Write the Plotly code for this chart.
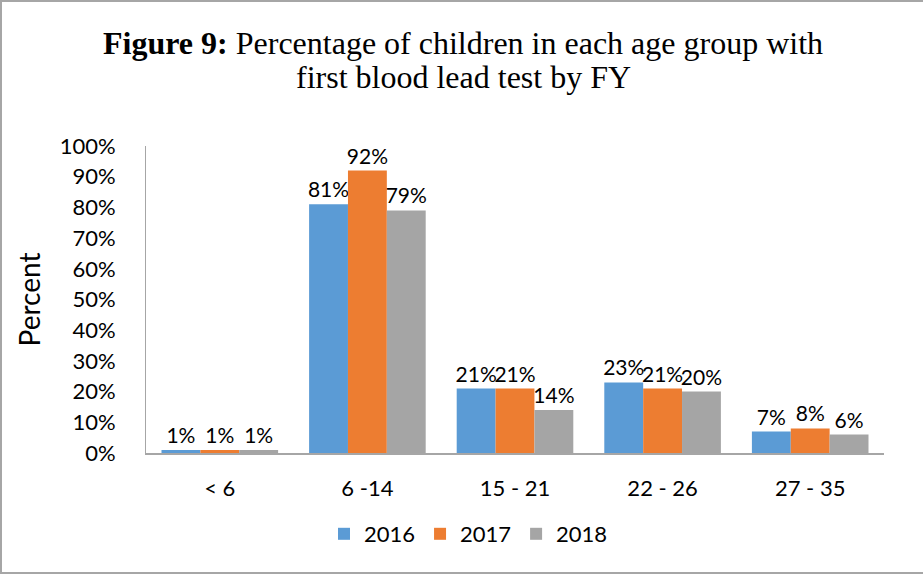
import plotly.graph_objects as go

# Age groups (months) and share of children with a first blood lead test
age_groups = ["< 6", "6 -14", "15 - 21", "22 - 26", "27 - 35"]
years = ["2016", "2017", "2018"]
pct_2016 = [1, 81, 21, 23, 7]
pct_2017 = [1, 92, 21, 21, 8]
pct_2018 = [1, 79, 14, 20, 6]
y_ticks = [0, 10, 20, 30, 40, 50, 60, 70, 80, 90, 100]
y_tick_text = [f"{v}%" for v in y_ticks]
title_lines = [
    "<b>Figure 9:</b> Percentage of children in each age group with",
    "first blood lead test by FY",
]

series = [pct_2016, pct_2017, pct_2018]
colors = ["#5B9BD5", "#ED7D31", "#A5A5A5"]

sans = "Lato, Carlito, Calibri, sans-serif"
tick_font = dict(family=sans, size=22, color="#000000")
value_font = dict(family=sans, size=21, color="#000000")

fig = go.Figure()
for name, vals, col in zip(years, series, colors):
    fig.add_trace(go.Bar(
        x=age_groups,
        y=vals,
        name=name,
        marker=dict(color=col, line=dict(width=0)),
        text=[f"{v}%" for v in vals],
        textposition="outside",
        textfont=value_font,
        constraintext="none",
        cliponaxis=False,
        hoverinfo="skip",
    ))

# page geometry (pixels)
W, H = 923, 575
L, R, T, B = 146, 39, 146, 122
pw, ph = W - L - R, H - T - B

def px_x(p):
    return (p - L) / pw

def px_y(p):
    return (H - B - p) / ph

border = dict(color="#A6A6A6", width=2)
shapes = [
    dict(type="line", xref="paper", yref="paper", x0=px_x(1), x1=px_x(1), y0=px_y(0), y1=px_y(574), line=border),
    dict(type="line", xref="paper", yref="paper", x0=px_x(0), x1=px_x(923), y0=px_y(1), y1=px_y(1), line=border),
    dict(type="line", xref="paper", yref="paper", x0=px_x(0), x1=px_x(923), y0=px_y(573), y1=px_y(573), line=border),
]

title_font = dict(family="Liberation Serif, Times New Roman, serif", size=32, color="#000000")
annotations = [
    dict(text=line, xref="paper", yref="paper", x=px_x(463), y=px_y(cy),
         xanchor="center", yanchor="middle", showarrow=False, font=title_font)
    for line, cy in zip(title_lines, [43, 77])
]

fig.update_layout(
    width=W, height=H,
    margin=dict(l=L, r=R, t=T, b=B, pad=0),
    paper_bgcolor="white",
    plot_bgcolor="white",
    barmode="group",
    bargap=0.21,
    bargroupgap=0,
    shapes=shapes,
    annotations=annotations,
    showlegend=True,
    legend=dict(
        orientation="h",
        x=px_x(324), xanchor="left",
        y=px_y(534), yanchor="middle",
        font=tick_font,
        itemwidth=30,
        tracegroupgap=0,
        bgcolor="rgba(0,0,0,0)",
    ),
    xaxis=dict(
        showline=True, linecolor="#A6A6A6", linewidth=1.5,
        ticks="", showgrid=False,
        tickfont=tick_font,
        ticklabelstandoff=15,
    ),
    yaxis=dict(
        range=[0, 100],
        tickvals=y_ticks,
        ticktext=y_tick_text,
        showline=True, linecolor="#A6A6A6", linewidth=1,
        ticks="", showgrid=False, zeroline=False,
        tickfont=tick_font,
        ticklabelstandoff=25,
        title=dict(text="Percent", font=dict(family=sans, size=28, color="#000000"), standoff=10),
    ),
)

fig.write_html("out.html")
